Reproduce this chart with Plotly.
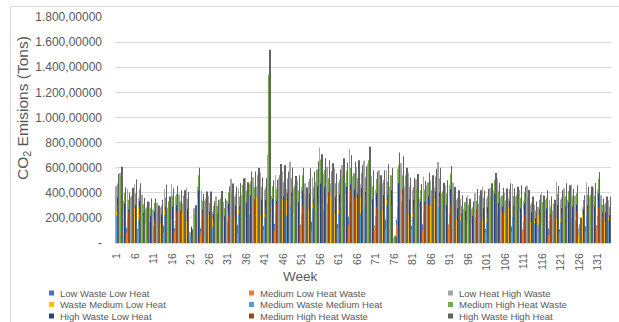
import plotly.graph_objects as go

weeks = list(range(1, 135))
week_ticks = list(range(1, 135, 5))
week_tick_labels = [str(w) for w in week_ticks]

y_ticks = [0, 200, 400, 600, 800, 1000, 1200, 1400, 1600, 1800]
y_tick_labels = ["-", "200,00000", "400,00000", "600,00000", "800,00000", "1.000,00000",
                 "1.200,00000", "1.400,00000", "1.600,00000", "1.800,00000"]

series_names = ["Low Waste Low Heat", "Medium Low Heat Waste", "Low Heat High Waste",
                "Waste Medium Low Heat", "Medium Waste Medium Heat", "Medium High Heat Waste",
                "High Waste Low Heat", "Medium High Heat Waste", "High Waste High Heat"]
series_colors = ["#4472C4", "#ED7D31", "#A5A5A5", "#FFC000", "#5B9BD5", "#70AD47",
                 "#264478", "#9E480E", "#636363"]

low_waste_low_heat = [
    143, 182, 107, 120, 114, 152, 114, 108, 86, 107,
    85, 90, 90, 140, 89, 132, 118, 126, 101, 123,
    60, 90, 144, 118, 107, 123, 79, 104, 108, 107,
    108, 143, 117, 143, 124, 146, 148, 171, 144, 157,
    134, 300, 120, 151, 164, 186, 137, 181, 139, 162,
    144, 133, 155, 171, 156, 213, 176, 198, 152, 167,
    152, 203, 154, 210, 168, 198, 149, 183, 199, 174,
    136, 162, 151, 188, 144, 20, 187, 207, 144, 157,
    135, 165, 113, 148, 146, 162, 142, 181, 125, 150,
    147, 134, 109, 114, 86, 106, 86, 129, 101, 126,
    112, 143, 134, 144, 114, 131, 114, 132, 116, 138,
    108, 127, 96, 99, 92, 114, 109, 111, 83, 137,
    109, 143, 110, 130, 120, 40, 91, 134, 117, 144,
    136, 106, 96, 111]

medium_low_heat_waste = [
    110, 103, 102, 82, 88, 86, 109, 73, 66, 60,
    82, 61, 69, 79, 85, 89, 91, 71, 97, 84,
    25, 51, 138, 80, 82, 70, 76, 70, 83, 60,
    104, 97, 90, 81, 118, 99, 114, 97, 138, 106,
    103, 380, 115, 103, 126, 105, 131, 123, 107, 92,
    138, 90, 119, 97, 150, 144, 135, 112, 146, 113,
    117, 115, 147, 143, 129, 112, 143, 124, 153, 99,
    130, 110, 116, 107, 138, 15, 144, 117, 138, 106,
    104, 94, 108, 101, 112, 92, 136, 123, 96, 85,
    141, 91, 84, 65, 83, 72, 66, 73, 97, 86,
    86, 81, 128, 98, 88, 74, 109, 89, 90, 78,
    103, 86, 74, 56, 88, 78, 84, 63, 79, 93,
    84, 81, 106, 88, 92, 90, 87, 91, 90, 82,
    130, 72, 74, 63]

low_heat_high_waste = [
    451, 558, 334, 430, 361, 465, 356, 385, 271, 327,
    266, 320, 283, 428, 278, 470, 373, 386, 315, 440,
    85, 276, 450, 420, 336, 377, 248, 370, 340, 327,
    338, 510, 369, 437, 386, 520, 467, 524, 450, 560,
    422, 700, 375, 540, 517, 570, 428, 647, 437, 497,
    450, 475, 488, 524, 488, 760, 554, 607, 476, 595,
    480, 621, 480, 750, 531, 607, 465, 655, 629, 534,
    425, 580, 476, 578, 450, 40, 590, 635, 450, 560,
    426, 506, 353, 530, 459, 497, 443, 645, 394, 460,
    460, 480, 344, 350, 270, 380, 271, 396, 315, 450,
    353, 437, 418, 515, 361, 400, 356, 470, 367, 423,
    336, 455, 303, 304, 287, 408, 344, 340, 259, 488,
    344, 437, 345, 465, 377, 120, 285, 480, 369, 442,
    424, 380, 303, 340]

waste_medium_low_heat = [
    248, 334, 267, 172, 198, 278, 285, 154, 149, 195,
    213, 128, 155, 256, 222, 188, 205, 231, 252, 176,
    40, 165, 360, 168, 185, 226, 198, 148, 187, 195,
    270, 204, 203, 261, 309, 208, 257, 314, 360, 224,
    232, 820, 300, 216, 284, 341, 342, 259, 240, 297,
    360, 190, 268, 314, 390, 304, 304, 363, 381, 238,
    263, 371, 384, 300, 291, 363, 372, 262, 345, 319,
    340, 232, 261, 345, 360, 25, 324, 380, 360, 224,
    234, 303, 282, 212, 252, 297, 354, 258, 216, 275,
    368, 192, 189, 209, 216, 152, 149, 237, 252, 180,
    194, 261, 334, 206, 198, 239, 285, 188, 202, 253,
    269, 182, 167, 182, 229, 163, 189, 204, 207, 195,
    189, 261, 276, 186, 207, 60, 228, 192, 203, 264,
    339, 152, 167, 204]

medium_waste_medium_heat = [
    220, 291, 169, 189, 176, 242, 181, 169, 132, 170,
    135, 141, 138, 223, 141, 207, 182, 202, 160, 194,
    70, 144, 228, 185, 164, 197, 125, 163, 166, 170,
    171, 224, 180, 228, 196, 229, 228, 274, 228, 246,
    206, 400, 190, 238, 252, 298, 217, 285, 213, 259,
    228, 209, 238, 274, 247, 334, 270, 317, 241, 262,
    234, 324, 243, 330, 259, 317, 236, 288, 307, 278,
    215, 255, 232, 301, 228, 30, 288, 331, 228, 246,
    208, 264, 179, 233, 224, 259, 224, 284, 192, 240,
    233, 211, 168, 182, 137, 167, 132, 206, 160, 198,
    172, 228, 212, 227, 176, 209, 181, 207, 179, 221,
    170, 200, 148, 158, 145, 180, 168, 178, 131, 215,
    168, 228, 175, 205, 184, 70, 144, 211, 180, 230,
    215, 167, 148, 178]

medium_high_heat_waste_a = [
    473, 530, 401, 344, 378, 394, 428, 308, 284, 277,
    320, 256, 297, 363, 333, 376, 391, 328, 378, 352,
    100, 234, 540, 336, 353, 320, 297, 296, 357, 277,
    405, 408, 387, 371, 464, 416, 490, 445, 540, 448,
    443, 1340, 450, 432, 542, 484, 513, 518, 458, 421,
    540, 380, 512, 445, 585, 665, 581, 515, 572, 476,
    503, 527, 576, 600, 556, 515, 558, 524, 660, 452,
    510, 464, 499, 490, 540, 60, 619, 538, 540, 448,
    447, 429, 423, 424, 482, 421, 531, 516, 413, 390,
    552, 384, 361, 296, 324, 304, 284, 335, 378, 360,
    370, 371, 501, 412, 378, 339, 428, 376, 385, 359,
    403, 364, 318, 257, 344, 326, 361, 289, 311, 390,
    361, 371, 414, 372, 396, 150, 342, 384, 387, 374,
    509, 304, 318, 289]

high_waste_low_heat = [
    363, 364, 312, 267, 290, 303, 333, 239, 218, 213,
    249, 198, 228, 279, 259, 291, 300, 252, 294, 273,
    130, 180, 420, 260, 271, 246, 231, 229, 274, 213,
    315, 316, 297, 285, 361, 322, 376, 342, 420, 347,
    340, 600, 350, 335, 416, 372, 399, 401, 352, 324,
    420, 295, 393, 342, 455, 471, 446, 396, 445, 369,
    386, 405, 448, 465, 427, 396, 434, 406, 506, 348,
    397, 360, 383, 377, 420, 35, 475, 414, 420, 347,
    343, 330, 329, 329, 370, 324, 413, 400, 317, 300,
    429, 298, 277, 228, 252, 236, 218, 258, 294, 279,
    284, 285, 390, 319, 290, 261, 333, 291, 296, 276,
    314, 282, 244, 198, 267, 253, 277, 222, 242, 303,
    277, 285, 322, 288, 304, 110, 266, 298, 297, 288,
    396, 236, 244, 222]

medium_high_heat_waste_b = [
    303, 376, 223, 249, 242, 313, 238, 223, 182, 220,
    178, 186, 190, 288, 185, 273, 250, 260, 210, 255,
    65, 186, 300, 244, 226, 254, 165, 215, 228, 220,
    225, 296, 248, 295, 258, 302, 314, 353, 300, 325,
    283, 1030, 250, 313, 347, 384, 285, 375, 293, 335,
    300, 276, 327, 353, 325, 441, 371, 409, 318, 345,
    322, 419, 320, 435, 356, 409, 310, 380, 422, 360,
    284, 336, 319, 389, 300, 30, 396, 428, 300, 325,
    286, 341, 235, 307, 308, 335, 295, 374, 264, 310,
    307, 278, 231, 236, 180, 220, 182, 267, 210, 261,
    237, 295, 279, 299, 242, 270, 238, 273, 246, 285,
    224, 264, 204, 205, 191, 237, 231, 229, 173, 283,
    231, 295, 230, 270, 253, 100, 190, 278, 248, 298,
    283, 220, 204, 229]

high_waste_high_heat = [
    550, 607, 445, 400, 440, 505, 475, 358, 330, 355,
    355, 298, 345, 465, 370, 437, 455, 420, 420, 409,
    110, 300, 600, 391, 410, 410, 330, 344, 415, 355,
    450, 474, 450, 475, 515, 484, 570, 570, 600, 521,
    515, 1540, 500, 502, 630, 620, 570, 602, 533, 540,
    600, 442, 595, 570, 650, 707, 675, 660, 635, 553,
    585, 675, 640, 698, 647, 660, 620, 609, 767, 580,
    567, 539, 580, 628, 600, 50, 720, 690, 600, 521,
    520, 550, 470, 493, 560, 540, 590, 600, 480, 500,
    613, 446, 420, 380, 360, 353, 330, 430, 420, 419,
    430, 475, 557, 479, 440, 435, 475, 437, 448, 460,
    448, 423, 370, 330, 382, 379, 420, 370, 345, 454,
    420, 475, 460, 432, 460, 200, 380, 446, 450, 480,
    565, 353, 370, 370]

series_values = [low_waste_low_heat, medium_low_heat_waste, low_heat_high_waste,
                 waste_medium_low_heat, medium_waste_medium_heat, medium_high_heat_waste_a,
                 high_waste_low_heat, medium_high_heat_waste_b, high_waste_high_heat]

# ---- layout geometry (pixels) ----
W, H = 619, 322
PL, PR, PT, PB = 115, 611, 17, 243
pw, ph = PR - PL, PB - PT

def px(x):
    return (x - PL) / pw

def py(y):
    return (PB - y) / ph

FONT = "Liberation Sans"
TXT = "#595959"

fig = go.Figure()
for name, color, vals in zip(series_names, series_colors, series_values):
    fig.add_trace(go.Bar(x=weeks, y=vals, name=name, marker=dict(color=color, line=dict(width=0)),
                         showlegend=False))

annotations = []
shapes = []

# manual legend (3 columns x 3 rows, row-major)
col_marker_x = [49, 249, 448]
row_y = [293, 304.5, 316]
for i, (name, color) in enumerate(zip(series_names, series_colors)):
    r, c = divmod(i, 3)
    mx, my = col_marker_x[c], row_y[r]
    shapes.append(dict(type="rect", xref="paper", yref="paper",
                       x0=px(mx), x1=px(mx + 5), y0=py(my + 2.5), y1=py(my - 2.5),
                       fillcolor=color, line=dict(width=0)))
    annotations.append(dict(text=name, xref="paper", yref="paper", x=px(mx + 9), y=py(my),
                            xanchor="left", yanchor="middle", showarrow=False,
                            font=dict(family=FONT, size=9.5, color=TXT)))

# axis titles
annotations.append(dict(text="CO<sub>2</sub> Emisions (Tons)", xref="paper", yref="paper",
                        x=px(24), y=py(108), textangle=-90, showarrow=False,
                        xanchor="center", yanchor="middle",
                        font=dict(family=FONT, size=15.5, color=TXT)))
annotations.append(dict(text="Week", xref="paper", yref="paper", x=px(300), y=py(276),
                        showarrow=False, xanchor="center", yanchor="middle",
                        font=dict(family=FONT, size=13.5, color=TXT)))

# chart area border
shapes.append(dict(type="rect", xref="paper", yref="paper",
                   x0=px(10.5), x1=px(700), y0=py(400), y1=py(6.5),
                   line=dict(color="#D9D9D9", width=1), fillcolor="rgba(0,0,0,0)"))

fig.update_layout(
    width=W, height=H,
    margin=dict(l=PL, r=W - PR, t=PT, b=H - PB, pad=0),
    paper_bgcolor="white", plot_bgcolor="white",
    barmode="group", bargap=0.12, bargroupgap=0,
    separators=",.",
    font=dict(family=FONT, color=TXT),
    showlegend=False,
    annotations=annotations, shapes=shapes,
    xaxis=dict(range=[0.5, 134.5], tickmode="array", tickvals=week_ticks, ticktext=week_tick_labels,
               tickangle=-90, tickfont=dict(family=FONT, size=10.5, color=TXT),
               showgrid=False, showline=True, linecolor="#D9D9D9", linewidth=1,
               ticks="", ticklabelstandoff=5, zeroline=False),
    yaxis=dict(range=[0, 1800], tickmode="array", tickvals=y_ticks, ticktext=y_tick_labels,
               tickfont=dict(family=FONT, size=12, color=TXT),
               showgrid=True, gridcolor="#D9D9D9", gridwidth=1, zeroline=False,
               showline=False, ticks="", ticklabelstandoff=12),
)

fig.write_html("out.html", config={"displayModeBar": False},
               post_script="document.body.style.margin='0';document.body.style.padding='0';document.body.style.overflow='hidden';")
